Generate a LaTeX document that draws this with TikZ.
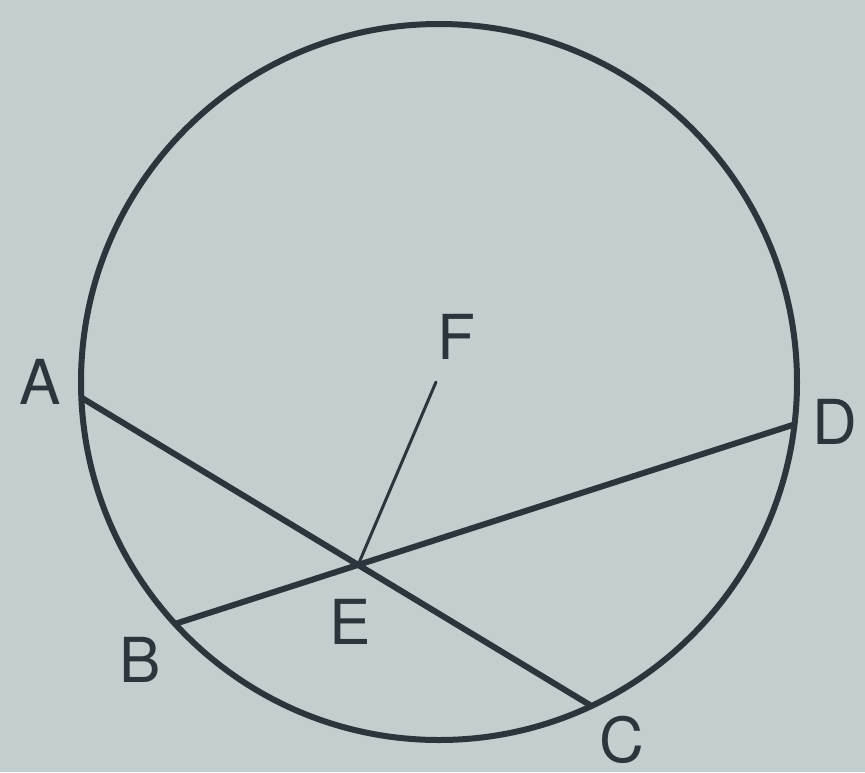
\documentclass[tikz,border=0pt]{standalone}
\usepackage{fontspec}
\setmainfont{TeX Gyre Heros}
\usetikzlibrary{intersections,calc}
\definecolor{bg}{RGB}{196,206,206}
\definecolor{ink}{RGB}{42,54,60}
\begin{document}
\begin{tikzpicture}[x=1pt,y=-1pt,
  thick line/.style={draw=ink,line width=6pt},
  thin line/.style={draw=ink,line width=3pt,line cap=round},
  lbl/.style={text=ink,font=\fontsize{62}{62}\selectfont,inner sep=0pt}]
\fill[bg] (0,0) rectangle (865,772);
\useasboundingbox (0,0) rectangle (865,772);
\coordinate (O) at (439,382);
\def\R{358}
\coordinate (A) at ($(O)+(177.5:\R)$);
\coordinate (D) at ($(O)+(6.8:\R)$);
\coordinate (B) at ($(O)+(137.5:\R)$);
\coordinate (C) at ($(O)+(64.8:\R)$);
\coordinate (F) at (436,382);
\draw[thick line] (O) circle (\R);
\draw[thick line, name path=AC] (A) -- (C);
\draw[thick line, name path=BD] (B) -- (D);
\path[name intersections={of=AC and BD, by=E}];
\draw[thin line] (E) -- (F);
\node[lbl] (lA) at (40,382) {A};
\node[lbl] (lF) at (456,337) {F};
\node[lbl] (lD) at (835,422) {D};
\node[lbl] (lB) at (140,660) {B};
\node[lbl] (lE) at (350,622) {E};
\node[lbl] (lC) at (622,740) {C};
\end{tikzpicture}
\end{document}
